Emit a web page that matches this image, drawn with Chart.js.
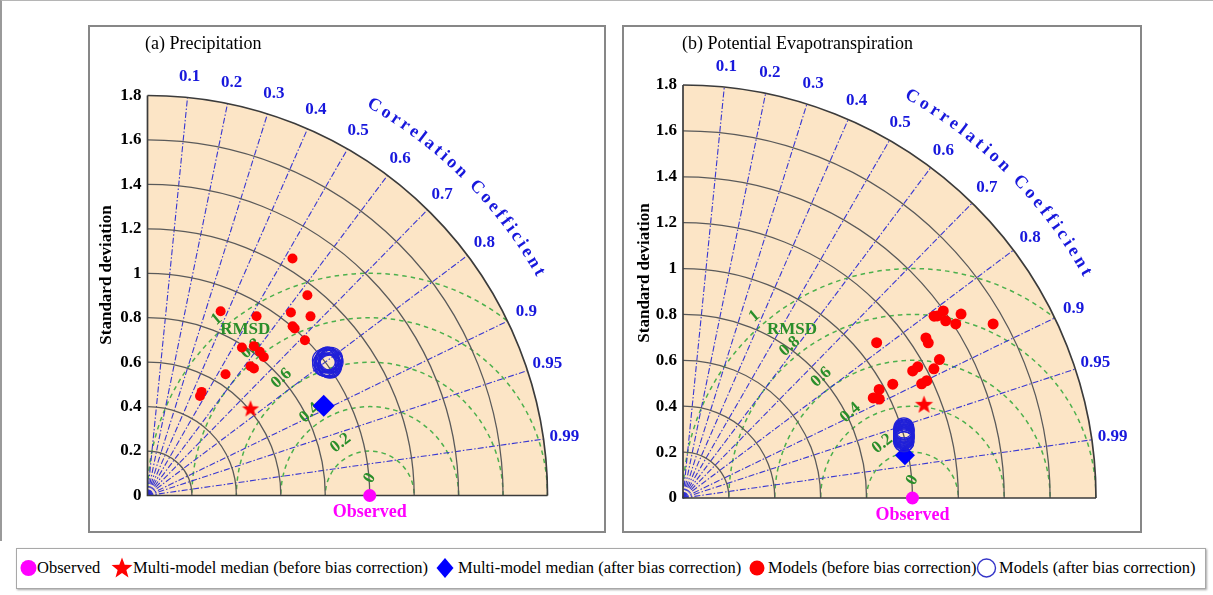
<!DOCTYPE html>
<html>
<head>
<meta charset="utf-8">
<script src="https://cdn.jsdelivr.net/npm/chart.js@4.4.1/dist/chart.umd.min.js"></script>
<style>
  html, body { margin: 0; padding: 0; background: #fff; width: 1213px; height: 595px; overflow: hidden; }
  body { font-family: "Liberation Serif", "Times New Roman", serif; position: relative; }
  canvas.taylor { position: absolute; }
  #edge { position: absolute; left: 0; top: 0; width: 1213px; height: 541px; box-sizing: border-box;
          border-left: 2px solid #9a9a9a; border-top: 1px solid #b5b5b5; }
  #legend { position: absolute; left: 16px; top: 548px; width: 1190px; height: 41px; box-sizing: border-box;
            border: 1px solid #a8a8a8; box-shadow: 1px 1px 2px rgba(0,0,0,0.35); background: #fff; }
  #legend svg { position: absolute; left: 0; top: 0; }
  #legend .lt { position: absolute; top: 9px; line-height: 20px; font-size: 16.5px; color: #000; white-space: nowrap; }
</style>
</head>
<body>
<div id="edge"></div>
<canvas id="taylorA" class="taylor" width="518" height="508" style="left:88px;top:25px"></canvas>
<canvas id="taylorB" class="taylor" width="520" height="508" style="left:622px;top:25px"></canvas>
<div id="legend"></div>

<script>
// ---- shared axis values ----
const corrTicks   = [0.1, 0.2, 0.3, 0.4, 0.5, 0.6, 0.7, 0.8, 0.9, 0.95, 0.99];
const stdArcs     = [0.2, 0.4, 0.6, 0.8, 1.0, 1.2, 1.4, 1.6, 1.8];
const rmsdLevels  = [0.2, 0.4, 0.6, 0.8, 1.0];
const rmsdLabels  = ['0', '0.2', '0.4', '0.6', '0.8', '1'];
const legendLabels = ['Observed', 'Multi-model median (before bias correction)',
  'Multi-model median (after bias correction)', 'Models (before bias correction)',
  'Models (after bias correction)'];

// ---- (a) Precipitation: normalised standard deviation and correlation ----
const precipObsStd = [1.0];
const precipBeforeStd  = [1.250, 1.153, 0.892, 0.944, 1.046, 1.090, 1.003, 1.002, 0.995, 0.790,
                          0.825, 0.821, 0.814, 0.744, 0.746, 0.649, 0.526, 0.506];
const precipBeforeCorr = [0.522, 0.624, 0.369, 0.520, 0.617, 0.673, 0.651, 0.661, 0.712, 0.538,
                          0.580, 0.616, 0.643, 0.623, 0.642, 0.541, 0.463, 0.467];
const precipAfterStd   = [1.012, 1.003, 1.024, 0.994, 1.017, 1.008, 1.030, 1.000, 1.010, 0.990,
                          1.020, 1.006, 1.014, 0.998, 1.026, 1.009, 1.004, 1.018];
const precipAfterCorr  = [0.804, 0.799, 0.809, 0.807, 0.796, 0.814, 0.802, 0.794, 0.811, 0.803,
                          0.806, 0.817, 0.798, 0.810, 0.805, 0.800, 0.815, 0.796];
const precipMedianBefore = [0.607, 0.764];   // [std, corr]
const precipMedianAfter  = [0.890, 0.891];

// ---- (b) Potential Evapotranspiration ----
const petObsStd = [1.0];
const petBeforeStd  = [1.351, 1.363, 1.397, 1.381, 1.453, 1.410, 1.550, 1.082, 1.268, 1.265,
                       1.270, 1.230, 1.172, 1.144, 1.040, 1.179, 1.153, 0.977, 0.937, 0.958];
const petBeforeCorr = [0.810, 0.813, 0.812, 0.829, 0.834, 0.843, 0.872, 0.780, 0.835, 0.845,
                       0.880, 0.889, 0.873, 0.875, 0.879, 0.901, 0.902, 0.875, 0.885, 0.893];
const petAfterStd   = [0.993, 0.995, 0.997, 0.999, 1.001, 1.003, 1.005, 1.007, 1.009, 1.010,
                       0.996, 0.998, 1.000, 1.002, 1.004, 1.006, 0.994, 1.008, 1.001, 0.999];
const petAfterCorr  = [0.969, 0.967, 0.965, 0.964, 0.962, 0.960, 0.958, 0.956, 0.955, 0.953,
                       0.966, 0.965, 0.963, 0.961, 0.959, 0.957, 0.969, 0.955, 0.962, 0.964];
const petMedianBefore = [1.127, 0.932];
const petMedianAfter  = [0.985, 0.982];

const SERIF = '"Liberation Serif", "Times New Roman", serif';

// polar (std, corr) -> cartesian data coordinates of the Taylor quadrant
function toXY(s, c) { return { x: s * c, y: s * Math.sqrt(1 - c * c) }; }
function pairs(stds, corrs) { return stds.map((s, i) => toXY(s, corrs[i])); }

function starCanvas(r, color) {
  const size = Math.ceil(2 * r + 2);
  const c = document.createElement('canvas');
  c.width = c.height = size;
  const g = c.getContext('2d');
  g.translate(size / 2, size / 2 + r * 0.08);
  g.beginPath();
  for (let i = 0; i < 10; i++) {
    const rr = i % 2 ? r * 0.42 : r;
    const a = -Math.PI / 2 + i * Math.PI / 5;
    g.lineTo(rr * Math.cos(a), rr * Math.sin(a));
  }
  g.closePath();
  g.fillStyle = color;
  g.fill();
  return c;
}

// draws the quadrant background, grid, RMSD contours and all decorations
const taylorPlugin = {
  id: 'taylor',
  beforeDatasetsDraw(chart, args, o) {
    const ctx = chart.ctx, xs = chart.scales.x, ys = chart.scales.y;
    const ox = xs.getPixelForValue(0), oy = ys.getPixelForValue(0);
    const len = u => xs.getPixelForValue(u) - ox;
    const R = len(o.maxStd);
    const obsX = xs.getPixelForValue(o.obsStd);
    const rad = d => d * Math.PI / 180;

    ctx.save();
    // panel frame
    ctx.strokeStyle = '#878787';
    ctx.lineWidth = 2;
    ctx.strokeRect(1, 1, chart.width - 2, chart.height - 2);

    // title
    ctx.fillStyle = '#000';
    ctx.font = `18px ${SERIF}`;
    ctx.textAlign = 'left';
    ctx.textBaseline = 'middle';
    ctx.fillText(o.title, o.titleX, o.titleY);

    // y axis title
    ctx.save();
    ctx.translate(o.yTitleX, o.yTitleY);
    ctx.rotate(-Math.PI / 2);
    ctx.font = `bold 17px ${SERIF}`;
    ctx.textAlign = 'center';
    ctx.fillText('Standard deviation', 0, 0);
    ctx.restore();

    // quadrant
    const wedge = () => {
      ctx.beginPath();
      ctx.moveTo(ox, oy);
      ctx.lineTo(ox + R, oy);
      ctx.arc(ox, oy, R, 0, -Math.PI / 2, true);
      ctx.closePath();
    };
    wedge();
    ctx.fillStyle = '#fce5c6';
    ctx.fill();

    // RMSD contours centred on the observation
    ctx.save();
    wedge();
    ctx.clip();
    ctx.setLineDash([4.5, 4]);
    ctx.strokeStyle = '#4cb04c';
    ctx.lineWidth = 1.5;
    rmsdLevels.forEach(r => {
      ctx.beginPath();
      ctx.arc(obsX, oy, len(r), 0, 2 * Math.PI);
      ctx.stroke();
    });
    ctx.restore();

    // correlation rays
    ctx.save();
    ctx.setLineDash([6, 2, 1.5, 2]);
    ctx.strokeStyle = 'rgba(45,45,210,0.95)';
    ctx.lineWidth = 1.1;
    corrTicks.forEach(c => {
      const th = Math.acos(c);
      ctx.beginPath();
      ctx.moveTo(ox, oy);
      ctx.lineTo(ox + R * Math.cos(th), oy - R * Math.sin(th));
      ctx.stroke();
    });
    ctx.restore();

    // standard deviation arcs
    ctx.strokeStyle = '#5a5a5a';
    ctx.lineWidth = 1.3;
    stdArcs.forEach(s => {
      if (s >= o.maxStd) return;
      ctx.beginPath();
      ctx.arc(ox, oy, len(s), 0, -Math.PI / 2, true);
      ctx.stroke();
    });
    ctx.strokeStyle = '#3b3b3b';
    ctx.lineWidth = 1.7;
    ctx.beginPath();
    ctx.arc(ox, oy, R, 0, -Math.PI / 2, true);
    ctx.stroke();
    ctx.beginPath();
    ctx.moveTo(ox, oy - R);
    ctx.lineTo(ox, oy);
    ctx.lineTo(ox + R, oy);
    ctx.stroke();

    // correlation tick labels
    ctx.fillStyle = '#1818dc';
    ctx.font = `bold 17px ${SERIF}`;
    ctx.textAlign = 'center';
    ctx.textBaseline = 'middle';
    corrTicks.forEach(c => {
      const th = Math.acos(c), r = R + o.corrLabelGap;
      ctx.fillText(String(c), ox + r * Math.cos(th), oy - r * Math.sin(th));
    });

    // curved axis caption
    ctx.font = `bold 18px ${SERIF}`;
    const text = 'Correlation Coefficient';
    const rc = R + o.captionGap;
    const chars = [...text];
    const widths = chars.map(ch => ctx.measureText(ch).width);
    const total = widths.reduce((a, b) => a + b, 0) + o.captionSpacing * (chars.length - 1);
    let ang = rad(45) + (total / 2) / rc;
    chars.forEach((ch, i) => {
      const a = ang - (widths[i] / 2) / rc;
      ctx.save();
      ctx.translate(ox + rc * Math.cos(a), oy - rc * Math.sin(a));
      ctx.rotate(Math.PI / 2 - a);
      ctx.fillText(ch, 0, 0);
      ctx.restore();
      ang -= (widths[i] + o.captionSpacing) / rc;
    });

    // RMSD labels
    ctx.fillStyle = '#2a8e2a';
    ctx.font = `bold 17px ${SERIF}`;
    rmsdLabels.forEach((t, i) => {
      const r = len(o.rmsdLabelR[i]), th = rad(o.rmsdLabelAng[i]);
      ctx.save();
      ctx.translate(obsX + r * Math.cos(th), oy - r * Math.sin(th));
      ctx.rotate(-rad(o.rmsdLabelRot[i]));
      ctx.fillText(t, 0, 0);
      ctx.restore();
    });
    ctx.fillText('RMSD', xs.getPixelForValue(o.rmsdTag[0]), ys.getPixelForValue(o.rmsdTag[1]));

    // observation caption
    ctx.fillStyle = '#ff00ff';
    ctx.font = `bold 18px ${SERIF}`;
    ctx.fillText('Observed', obsX, oy + 17);
    ctx.restore();
  }
};

function makeTaylor(id, p) {
  const canvas = document.getElementById(id);
  const W = canvas.width, H = canvas.height;
  const left = p.origin[0], bottom = p.origin[1], R = p.radius;
  const star = starCanvas(p.starR, '#ff0000');
  return new Chart(canvas, {
    type: 'scatter',
    data: {
      datasets: [
        { label: legendLabels[0], data: pairs(p.obs, [1]), pointStyle: 'circle', pointRadius: 6.5,
          backgroundColor: '#ff00ff', borderColor: '#ff00ff', borderWidth: 0, clip: false },
        { label: legendLabels[4], data: pairs(p.afterStd, p.afterCorr), pointStyle: 'circle', pointRadius: p.ringR,
          backgroundColor: 'rgba(0,0,0,0)', borderColor: '#2020d8', borderWidth: 1.2, clip: false },
        { label: legendLabels[2], data: [toXY(p.medAfter[0], p.medAfter[1])], pointStyle: 'rectRot', pointRadius: p.diamondR,
          backgroundColor: '#0000ff', borderColor: '#0000ff', borderWidth: 0, clip: false },
        { label: legendLabels[1], data: [toXY(p.medBefore[0], p.medBefore[1])], pointStyle: star,
          clip: false },
        { label: legendLabels[3], data: pairs(p.beforeStd, p.beforeCorr), pointStyle: 'circle', pointRadius: p.dotR,
          backgroundColor: '#ff0000', borderColor: '#ff0000', borderWidth: 0, clip: false }
      ]
    },
    options: {
      responsive: false,
      animation: false,
      events: [],
      layout: { padding: { left: 0, top: bottom - R, right: W - (left + R), bottom: H - bottom } },
      scales: {
        x: { type: 'linear', display: false, min: 0, max: 1.8 },
        y: {
          type: 'linear', min: 0, max: 1.8,
          grid: { display: false, drawTicks: false },
          border: { display: false },
          ticks: {
            stepSize: 0.2, autoSkip: false, padding: 6, color: '#000',
            font: { family: SERIF, size: 17, weight: 'bold' },
            callback: v => String(+v.toFixed(1))
          },
          afterFit: s => { s.width = left; }
        }
      },
      plugins: {
        legend: { display: false },
        tooltip: { enabled: false },
        taylor: {
          maxStd: 1.8, obsStd: p.obs[0], title: p.title, titleX: p.titleXY[0], titleY: p.titleXY[1],
          yTitleX: p.yTitleXY[0], yTitleY: p.yTitleXY[1],
          corrLabelGap: 21, captionGap: p.captionGap, captionSpacing: p.captionSpacing,
          rmsdLabelR: [0.078, 0.27, 0.46, 0.66, 0.85, 1.05],
          rmsdLabelAng: [90, 119, 126, 127, 129, 131],
          rmsdLabelRot: [60, 38, 42, 42, 42, 40],
          rmsdTag: p.rmsdTag
        }
      }
    },
    plugins: [taylorPlugin]
  });
}

makeTaylor('taylorA', {
  title: '(a) Precipitation', titleXY: [57, 19], yTitleXY: [19, 250],
  origin: [59.5, 470.5], radius: 400, captionGap: 51, captionSpacing: 3.1,
  obs: precipObsStd, beforeStd: precipBeforeStd, beforeCorr: precipBeforeCorr,
  afterStd: precipAfterStd, afterCorr: precipAfterCorr,
  medBefore: precipMedianBefore, medAfter: precipMedianAfter,
  dotR: 5, ringR: 11.5, diamondR: 11, starR: 9, rmsdTag: [0.44, 0.748]
});

makeTaylor('taylorB', {
  title: '(b) Potential Evapotranspiration', titleXY: [60, 19], yTitleXY: [23, 248],
  origin: [61, 473], radius: 413, captionGap: 49, captionSpacing: 3.7,
  obs: petObsStd, beforeStd: petBeforeStd, beforeCorr: petBeforeCorr,
  afterStd: petAfterStd, afterCorr: petAfterCorr,
  medBefore: petMedianBefore, medAfter: petMedianAfter,
  dotR: 5.5, ringR: 10, diamondR: 10, starR: 9.5, rmsdTag: [0.475, 0.732]
});

// ---- shared legend ----
(function buildLegend() {
  const box = document.getElementById('legend');
  const ns = 'http://www.w3.org/2000/svg';
  const svg = document.createElementNS(ns, 'svg');
  svg.setAttribute('width', '1188');
  svg.setAttribute('height', '39');
  const add = (tag, attrs) => {
    const e = document.createElementNS(ns, tag);
    Object.entries(attrs).forEach(([k, v]) => e.setAttribute(k, v));
    svg.appendChild(e);
  };
  add('circle', { cx: 11.5, cy: 19, r: 8, fill: '#ff00ff' });
  const sp = [];
  for (let i = 0; i < 10; i++) {
    const rr = i % 2 ? 4.6 : 11, a = -Math.PI / 2 + i * Math.PI / 5;
    sp.push((105 + rr * Math.cos(a)).toFixed(2) + ',' + (19.5 + rr * Math.sin(a)).toFixed(2));
  }
  add('polygon', { points: sp.join(' '), fill: '#ff0000' });
  add('polygon', { points: '428,9 436.5,19 428,29 419.5,19', fill: '#0000ff' });
  add('circle', { cx: 740, cy: 19, r: 7.5, fill: '#ff0000' });
  add('circle', { cx: 969.5, cy: 19, r: 9, fill: 'none', stroke: '#3434c8', 'stroke-width': 1.4 });
  box.appendChild(svg);
  const xs = [20, 116, 441, 751, 982];
  legendLabels.forEach((t, i) => {
    const s = document.createElement('span');
    s.className = 'lt';
    s.style.left = xs[i] + 'px';
    s.textContent = t;
    box.appendChild(s);
  });
})();
</script>
</body>
</html>
